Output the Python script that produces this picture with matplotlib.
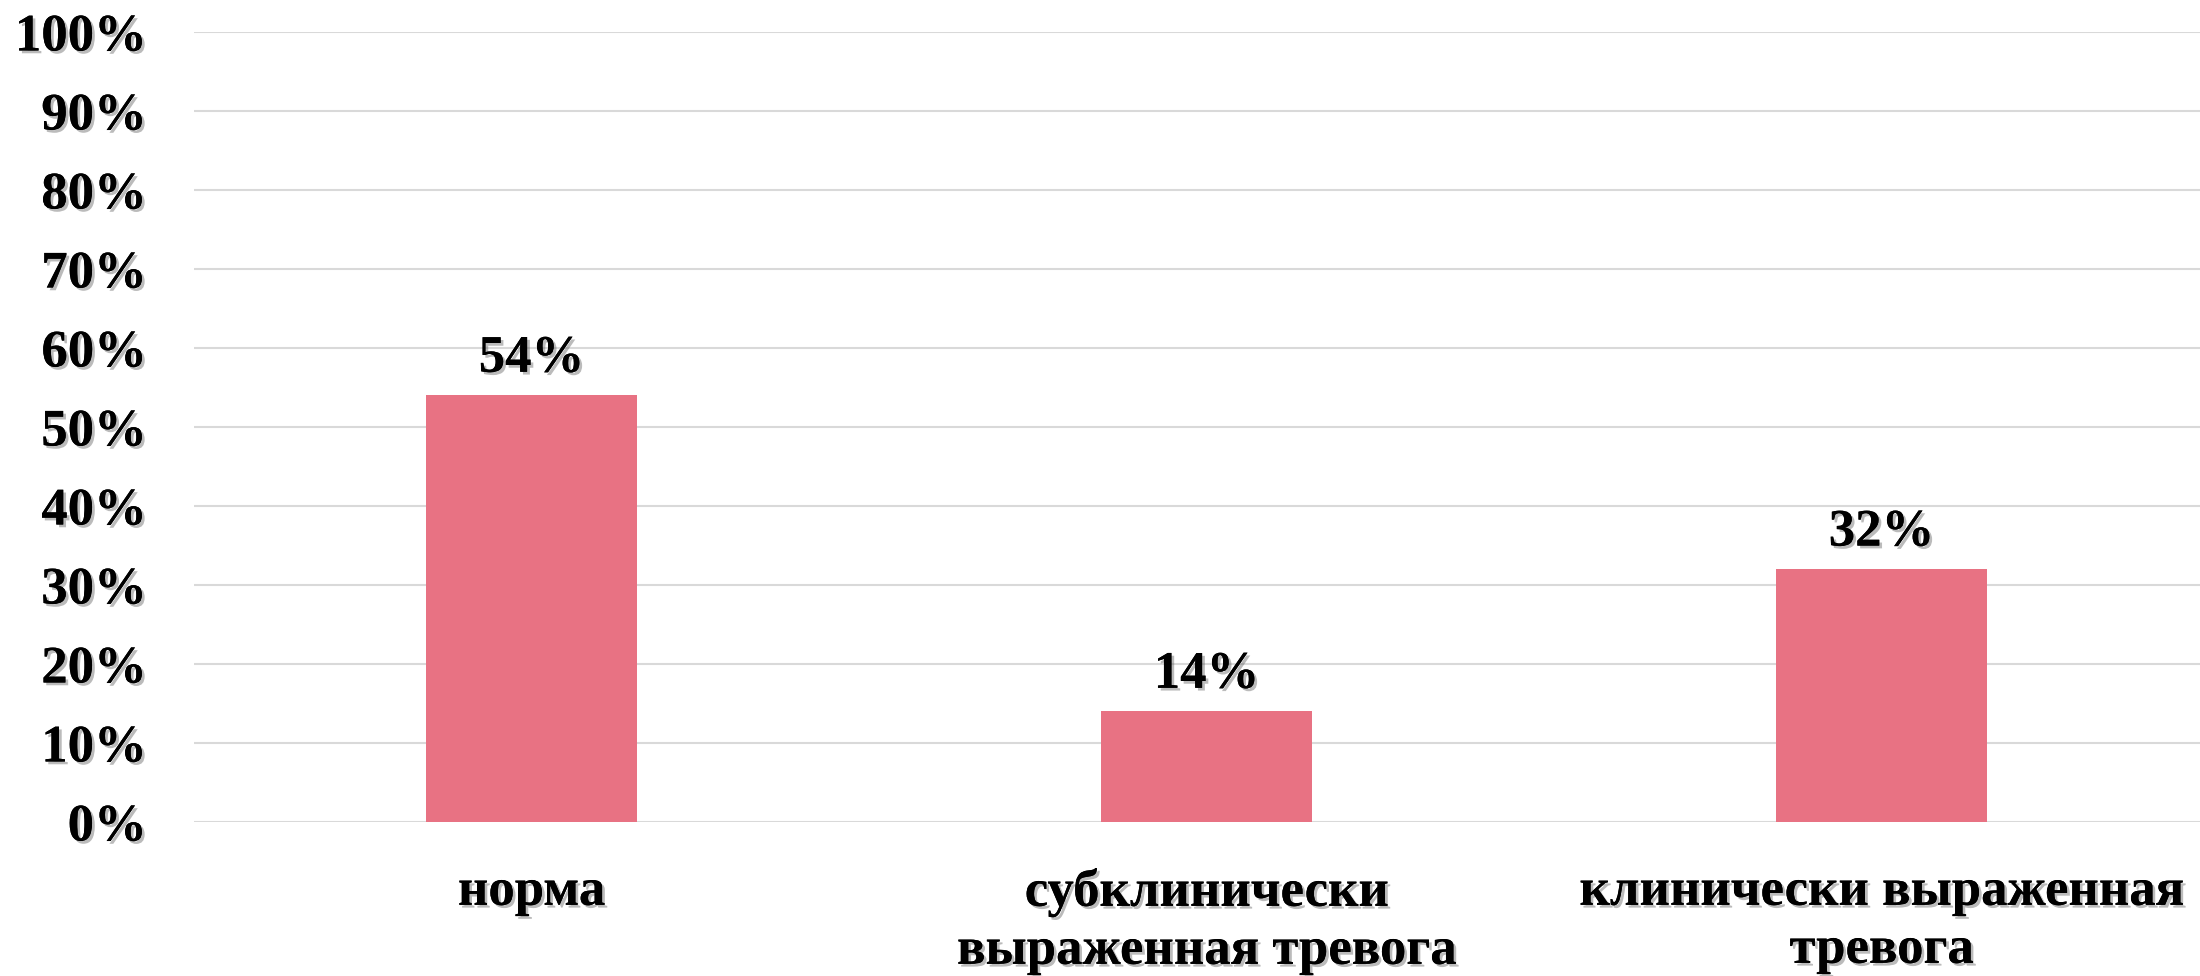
import matplotlib
matplotlib.use("Agg")
import matplotlib.pyplot as plt
import matplotlib.patheffects as pe
from matplotlib.ticker import FuncFormatter, MultipleLocator

categories = ["норма", "субклинически\nвыраженная тревога", "клинически выраженная\nтревога"]
values = [54, 14, 32]
value_labels = ["54%", "14%", "32%"]

FONT = "Liberation Serif"
FS = 38
BAR_COLOR = "#E87283"
GRID_COLOR = "#D9D9D9"

shadow = [pe.withSimplePatchShadow(offset=(2, -2), shadow_rgbFace="#555555", alpha=0.4), pe.Normal()]

fig = plt.figure(figsize=(22, 9.76), dpi=100)
left = 194 / 2200
bottom = 1 - 822 / 976
top = 1 - 32 / 976
ax = fig.add_axes([left, bottom, 1.0 - left, top - bottom])

x = list(range(len(categories)))
ax.bar(x, values, width=0.3126, color=BAR_COLOR, zorder=3)

ax.set_xlim(-0.5, -0.5 + (2200 - 194) / 675)
ax.set_ylim(0, 100)
ax.yaxis.set_major_locator(MultipleLocator(10))
ax.yaxis.set_major_formatter(FuncFormatter(lambda v, p: f"{int(round(v))}%"))
ax.grid(axis="y", color=GRID_COLOR, linewidth=1.5, zorder=0)
ax.set_axisbelow(True)
for s in ax.spines.values():
    s.set_visible(False)
ax.tick_params(axis="both", length=0)
ax.tick_params(axis="y", pad=34)
ax.tick_params(axis="x", pad=33)

ax.set_xticks(x)
ax.set_xticklabels(categories, va="top", linespacing=1.27)
for lbl in ax.get_xticklabels() + ax.get_yticklabels():
    lbl.set_fontfamily(FONT)
    lbl.set_fontweight("bold")
    lbl.set_fontsize(FS)
    lbl.set_path_effects(shadow)

for xi, v, t in zip(x, values, value_labels):
    ax.annotate(t, (xi, v), xytext=(0, 17), textcoords="offset points",
                ha="center", va="baseline", fontsize=FS, fontweight="bold",
                fontfamily=FONT, path_effects=shadow, zorder=5)

fig.savefig("out.png", dpi=100)
